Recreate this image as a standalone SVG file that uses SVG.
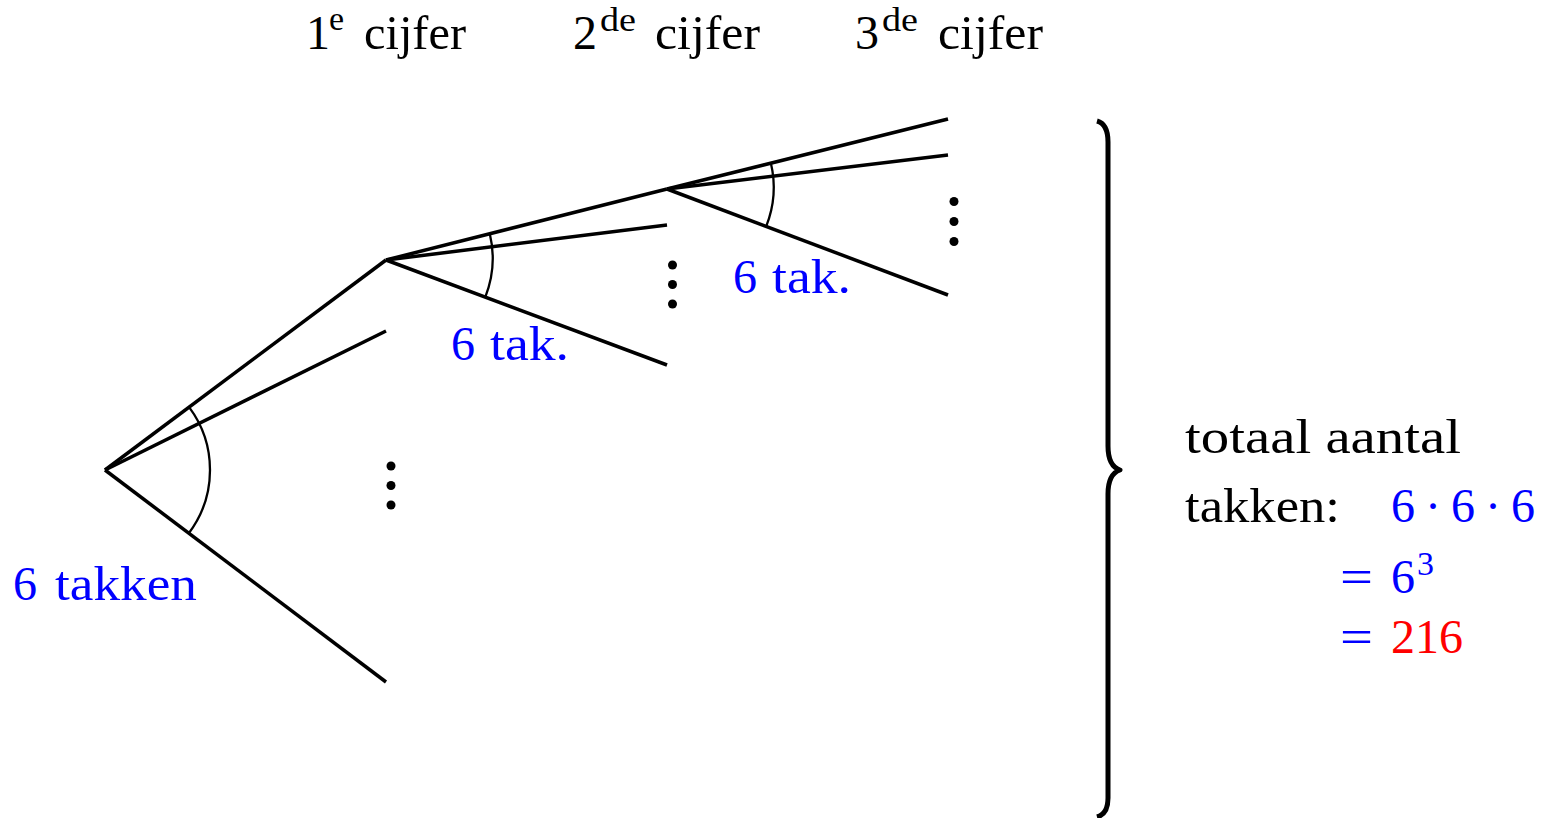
<svg xmlns="http://www.w3.org/2000/svg" width="1542" height="818" viewBox="0 0 1542 818">
<style>
  text { font-family: 'Liberation Serif', 'DejaVu Serif', 'Times New Roman', serif; font-size: 48px; fill: #000; }
  .sup { font-size: 34px; }
  .blue { fill: #0000ff; }
  .red { fill: #ff0000; }
  .edge { stroke: #000; stroke-width: 3.5; fill: none; stroke-linecap: butt; }
  .arc { stroke: #000; stroke-width: 2.3; fill: none; }
  .dot { fill: #000; }
</style>
<rect width="1542" height="818" fill="#fff"/>

<g id="headers" font-family="Liberation Serif, DejaVu Serif, serif">
  <text x="306" y="49">1</text><text class="sup" x="329" y="30">e</text><text x="364" y="49" textLength="102" lengthAdjust="spacingAndGlyphs">cijfer</text>
  <text x="573" y="49">2</text><text class="sup" x="600" y="31" textLength="36" lengthAdjust="spacingAndGlyphs">de</text><text x="655" y="49" textLength="105" lengthAdjust="spacingAndGlyphs">cijfer</text>
  <text x="855" y="49">3</text><text class="sup" x="882" y="31" textLength="36" lengthAdjust="spacingAndGlyphs">de</text><text x="938" y="49" textLength="105" lengthAdjust="spacingAndGlyphs">cijfer</text>
</g>

<g id="connectors">
  <line class="edge" x1="105" y1="470" x2="386" y2="260"/>
  <line class="edge" x1="105" y1="470" x2="386" y2="331"/>
  <line class="edge" x1="105" y1="470" x2="386" y2="682"/>
  <line class="edge" x1="386" y1="260" x2="667" y2="189"/>
  <line class="edge" x1="386" y1="260" x2="667" y2="225"/>
  <line class="edge" x1="386" y1="260" x2="667" y2="365"/>
  <line class="edge" x1="667" y1="189" x2="948" y2="119"/>
  <line class="edge" x1="667" y1="189" x2="948" y2="155"/>
  <line class="edge" x1="667" y1="189" x2="948" y2="295"/>
  <path class="arc" d="M189.1,407.1 A105,105 0 0 1 188.8,533.2"/>
  <path class="arc" d="M489.8,233.8 A106,106 0 0 1 485.3,297.1"/>
  <path class="arc" d="M770.8,162.8 A106,106 0 0 1 766.2,226.4"/>
</g>

<g id="dots1">
  <circle class="dot" cx="391" cy="466" r="4.5"/>
  <circle class="dot" cx="391" cy="485.5" r="4.5"/>
  <circle class="dot" cx="391" cy="505" r="4.5"/>
</g>
<g id="dots2">
  <circle class="dot" cx="672.5" cy="265" r="4.5"/>
  <circle class="dot" cx="672.5" cy="284.5" r="4.5"/>
  <circle class="dot" cx="672.5" cy="304" r="4.5"/>
</g>
<g id="dots3">
  <circle class="dot" cx="954" cy="201.5" r="4.5"/>
  <circle class="dot" cx="954" cy="221.5" r="4.5"/>
  <circle class="dot" cx="954" cy="241.5" r="4.5"/>
</g>

<g id="label-root" font-family="Liberation Serif, DejaVu Serif, serif">
  <text class="blue" x="13" y="600">6</text><text class="blue" x="55" y="600" textLength="142" lengthAdjust="spacingAndGlyphs">takken</text>
</g>
<g id="label-b" font-family="Liberation Serif, DejaVu Serif, serif">
  <text class="blue" x="451" y="360">6</text><text class="blue" x="490" y="360" textLength="79" lengthAdjust="spacingAndGlyphs">tak.</text>
</g>
<g id="label-c" font-family="Liberation Serif, DejaVu Serif, serif">
  <text class="blue" x="733" y="293">6</text><text class="blue" x="772" y="293" textLength="79" lengthAdjust="spacingAndGlyphs">tak.</text>
</g>

<g id="brace">
  <path d="M1097,121 Q1108,124 1108,142 L1108,446 Q1108,466 1120,470 Q1108,474 1108,494 L1108,798 Q1108,814 1097,817" stroke="#000" stroke-width="5" fill="none" stroke-linejoin="round"/>
</g>

<g id="total" font-family="Liberation Serif, DejaVu Serif, serif">
  <text x="1185" y="453" textLength="276" lengthAdjust="spacingAndGlyphs">totaal aantal</text>
  <text x="1185" y="522" textLength="155" lengthAdjust="spacingAndGlyphs">takken:</text>
  <text class="blue" x="1391" y="522">6</text>
  <text class="blue" x="1433" y="522" text-anchor="middle" font-size="56">·</text>
  <text class="blue" x="1451" y="522">6</text>
  <text class="blue" x="1493" y="522" text-anchor="middle" font-size="56">·</text>
  <text class="blue" x="1511" y="522">6</text>
  <text class="blue" x="1340" y="593" textLength="33" lengthAdjust="spacingAndGlyphs">=</text>
  <text class="blue" x="1391" y="593">6</text>
  <text class="blue sup" x="1417" y="575">3</text>
  <text class="blue" x="1340" y="653" textLength="33" lengthAdjust="spacingAndGlyphs">=</text>
  <text class="red" x="1391" y="653" textLength="72" lengthAdjust="spacingAndGlyphs">216</text>
</g>
</svg>
